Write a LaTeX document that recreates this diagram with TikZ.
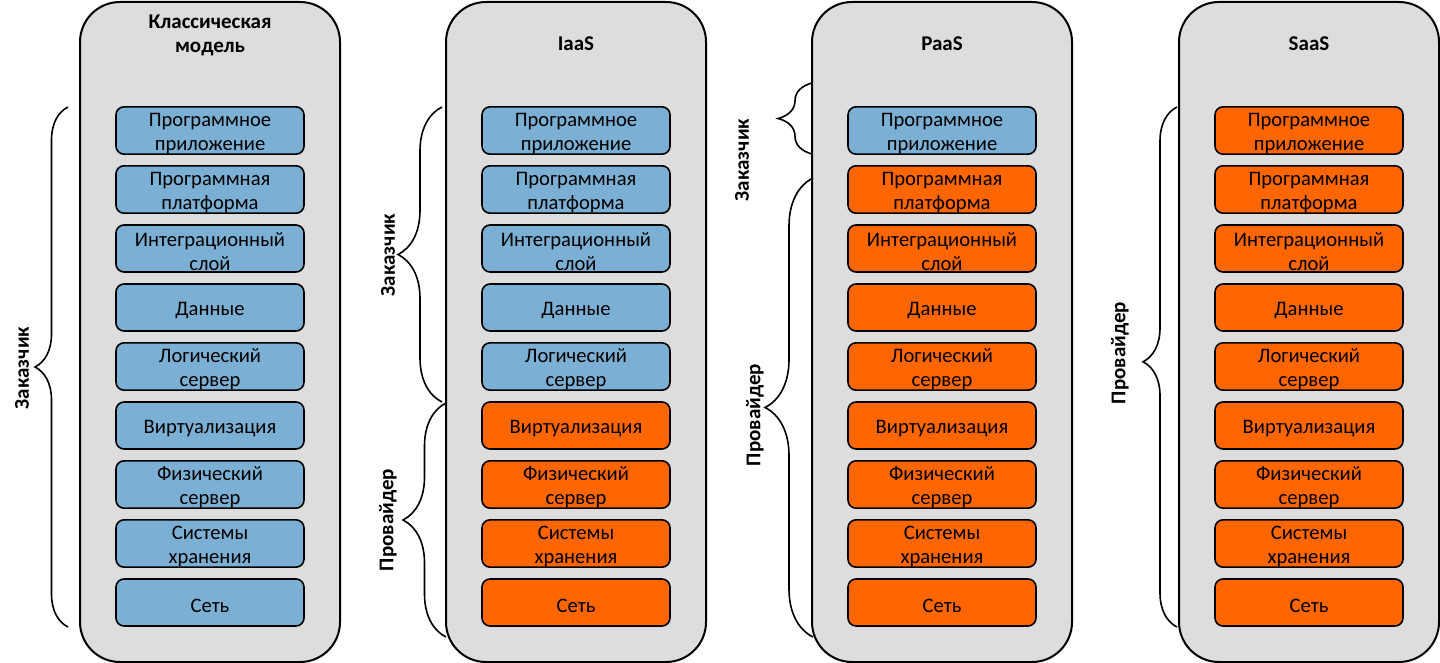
\documentclass[tikz,border=0pt]{standalone}
\usepackage{fontspec}
\setmainfont{Carlito}
\usetikzlibrary{decorations.pathreplacing}
\definecolor{layerblue}{HTML}{7BAFD4}
\definecolor{layerorange}{HTML}{FF6600}
\definecolor{panelgray}{HTML}{DDDDDD}

\begin{document}
\begin{tikzpicture}[x=0.5pt, y=-0.5pt, font=\fontsize{10.3}{12}\selectfont,
    panel/.style={draw, line width=1pt, fill=panelgray, rounded corners=20pt, minimum width=130pt, minimum height=330pt},
    layer/.style={draw, line width=0.8pt, rounded corners=4pt, minimum width=94pt, minimum height=23.5pt, text width=90pt, align=center, inner sep=0pt,
      execute at begin node={\rule{0pt}{10pt}}},
    client/.style={layer, fill=layerblue},
    vendor/.style={layer, fill=layerorange},
    title/.style={font=\fontsize{10.5}{12}\selectfont\bfseries, align=center},
    side/.style={font=\fontsize{10.5}{12}\selectfont\bfseries, rotate=90},
    curly/.style={decorate, decoration={brace, amplitude=#1}, line width=0.8pt}]
  \useasboundingbox (0,0) rectangle (1440,663);
  % columns: panel, title, layers
  \foreach \col/\cx/\hy/\nblue/\head in {1/210/35/9/{Классическая\\модель}, 2/576/44/5/IaaS, 3/942/44/1/PaaS, 4/1309/44/0/SaaS} {
    \node[panel] (panel\col) at (\cx,332) {};
    \node[title] (head\col) at (\cx,\hy) {\head};
    \foreach \txt [count=\row] in {{Программное\\приложение}, {Программная\\платформа}, {Интеграционный\\слой}, Данные, {Логический\\сервер}, Виртуализация, {Физический\\сервер}, {Системы\\хранения}, Сеть} {
      \ifnum\row>\nblue \def\kind{vendor}\else \def\kind{client}\fi
      \node[\kind] (l\col\row) at (\cx,{130.5+59*(\row-1)}) {\txt};
    }
  }
  % braces
  \draw[curly=16.5pt] (68,627) -- (68,107);
  \node[side] (cust1) at (22,368) {Заказчик};
  \draw[curly=22pt] (442,402) -- (442,107);
  \node[side] (cust2) at (388,255) {Заказчик};
  \draw[curly=21.5pt] (446,637) -- (446,403);
  \node[side] (prov2) at (388,520) {Провайдер};
  \draw[curly=17pt] (812,154) -- (812,83);
  \node[side] (cust3) at (742,160) {Заказчик};
  \draw[curly=24pt] (813,637) -- (813,178);
  \node[side] (prov3) at (755,415) {Провайдер};
  \draw[curly=17pt, decoration={aspect=0.51}] (1177,627) -- (1177,107);
  \node[side] (prov4) at (1120,353) {Провайдер};
\end{tikzpicture}
\end{document}
